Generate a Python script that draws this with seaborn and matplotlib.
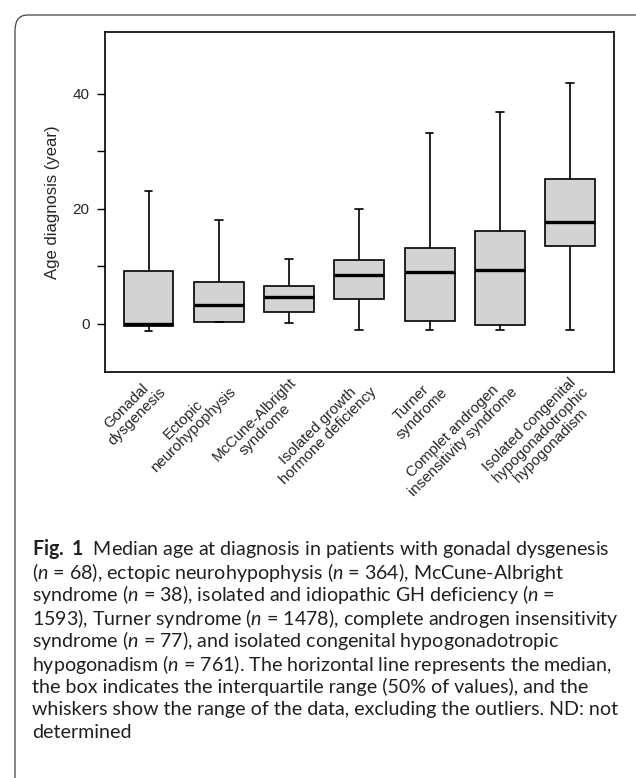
import matplotlib
matplotlib.use("Agg")
import matplotlib.pyplot as plt
import seaborn as sns
import pandas as pd
from matplotlib.patches import FancyBboxPatch

categories = [
    "Gonadal\ndysgenesis",
    "Ectopic\nneurohypophysis",
    "McCune-Albright\nsyndrome",
    "Isolated growth\nhormone deficiency",
    "Turner\nsyndrome",
    "Complet androgen\ninsensitivity syndrome",
    "Isolated congenital\nhypogonadotrophic\nhypogonadism",
]
whisker_low = [-1.2, 0.2, 0.1, -1.1, -1.1, -1.1, -1.1]
q1 = [-0.4, 0.2, 2.05, 4.3, 0.4, -0.3, 13.6]
median = [-0.1, 3.3, 4.7, 8.4, 9.0, 9.3, 17.7]
q3 = [9.2, 7.2, 6.55, 11.0, 13.2, 16.1, 25.1]
whisker_high = [23.1, 18.0, 11.3, 19.9, 33.2, 36.9, 41.9]
yticks = [0, 10, 20, 30, 40]
ytick_labels = ["0", "", "20", "", "40"]

rows = []
for i, c in enumerate(categories):
    for v in (whisker_low[i], q1[i], median[i], q3[i], whisker_high[i]):
        rows.append({"group": c, "age": v})
df = pd.DataFrame(rows)

sns.set_style("white")
plt.rcParams["font.family"] = ["Liberation Sans", "DejaVu Sans"]
plt.rcParams["mathtext.fontset"] = "custom"
plt.rcParams["mathtext.rm"] = "Lato"
plt.rcParams["mathtext.it"] = "Lato:italic"
plt.rcParams["mathtext.bf"] = "Lato:bold"

fig = plt.figure(figsize=(6.36, 7.78), dpi=100)
ax = fig.add_axes([0.165, 0.522, 0.800, 0.437])

sns.boxplot(
    data=df, x="group", y="age", order=categories, ax=ax,
    whis=(0, 100), width=0.71, color="#d3d3d3", showfliers=False,
    linecolor="black", linewidth=1.2, capwidths=0.11,
    medianprops={"color": "black", "linewidth": 2.4},
    boxprops={"facecolor": "#d3d3d3", "edgecolor": "black"},
)

ax.set_ylim(-8.4, 50.8)
ax.set_xlim(-0.62, 6.62)
ax.set_yticks(yticks)
ax.set_yticklabels(ytick_labels, fontsize=11)
ax.set_ylabel("Age diagnosis (year)", fontsize=12, labelpad=9)
ax.set_xlabel("")
ax.tick_params(axis="y", direction="out", length=6, width=1.0, pad=5,
               left=True, color="black")
ax.tick_params(axis="x", length=0, pad=2)
ax.set_xticks(range(len(categories)))
ax.set_xticklabels(categories, rotation=45, ha="right", va="top",
                   rotation_mode="anchor", fontsize=10.8, multialignment="center",
                   linespacing=1.05)
for sp in ax.spines.values():
    sp.set_visible(True)
    sp.set_color("black")
    sp.set_linewidth(1.2)

# panel border
panel = FancyBboxPatch((15 / 636, -0.1), 1.2, 1 - 15 / 778 + 0.1,
                       boxstyle="round,pad=0,rounding_size=0.02",
                       transform=fig.transFigure, fill=False,
                       edgecolor="#444444", linewidth=0.9)
fig.add_artist(panel)

caption = [
    r"$\bf{Fig.\ 1}$  Median age at diagnosis in patients with gonadal dysgenesis",
    r"($n$ = 68), ectopic neurohypophysis ($n$ = 364), McCune-Albright",
    r"syndrome ($n$ = 38), isolated and idiopathic GH deficiency ($n$ =",
    r"1593), Turner syndrome ($n$ = 1478), complete androgen insensitivity",
    r"syndrome ($n$ = 77), and isolated congenital hypogonadotropic",
    r"hypogonadism ($n$ = 761). The horizontal line represents the median,",
    r"the box indicates the interquartile range (50% of values), and the",
    r"whiskers show the range of the data, excluding the outliers. ND: not",
    r"determined",
]
y0 = 549
for i, line in enumerate(caption):
    fig.text(32 / 636, 1 - (y0 + i * 23) / 778, line, fontsize=14.1,
             family="Lato", va="center", ha="left", color="#231f20")

fig.savefig("out.png", dpi=100)
